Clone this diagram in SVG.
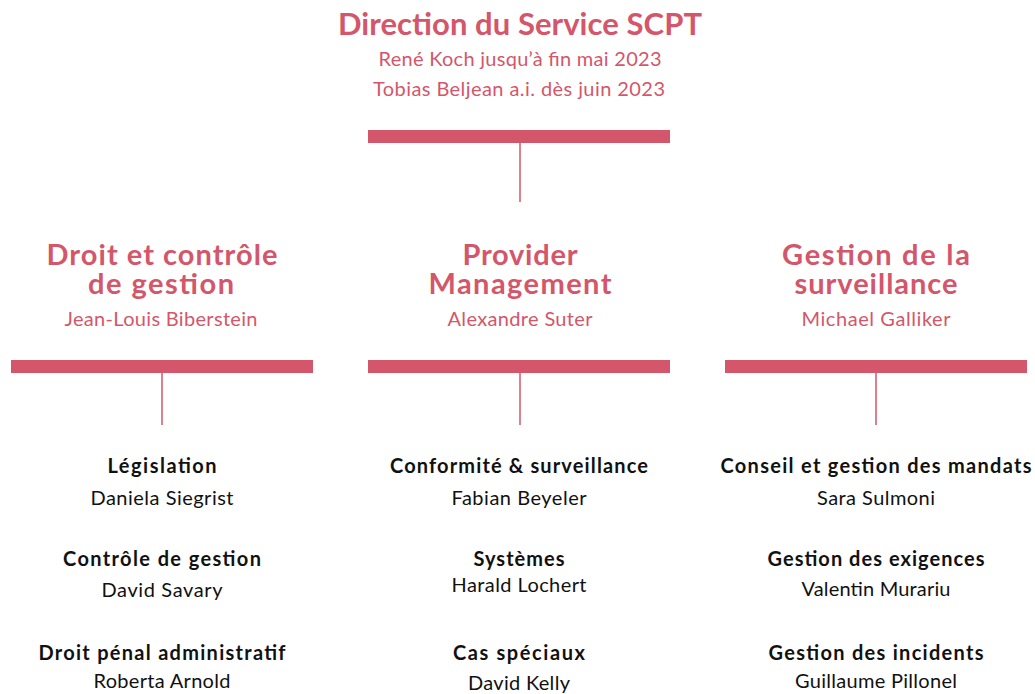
<svg xmlns="http://www.w3.org/2000/svg" width="1035" height="694" viewBox="0 0 1035 694">
  <style>
    text { font-family: Lato, "Open Sans", "Liberation Sans", sans-serif; text-anchor: middle; }
    .title { font-size: 31px; font-weight: 700; fill: #d4566a; }
    .head { font-size: 29px; font-weight: 700; fill: #d4566a; }
    .lead { font-size: 20px; font-weight: 400; fill: #d4566a; }
    .unit { font-size: 20px; font-weight: 700; fill: #111111; }
    .person { font-size: 20px; font-weight: 400; fill: #111111; }
    .bar { fill: #d4566a; }
    .link { stroke: #d4566a; stroke-width: 1.5; fill: none; }
  </style>
  <rect width="1035" height="694" fill="#ffffff"/>

  <!-- connectors from the bars down to the next level -->
  <g id="connectors">
    <line class="link" x1="520" y1="142" x2="520" y2="202"/>
    <line class="link" x1="162" y1="373" x2="162" y2="425"/>
    <line class="link" x1="520" y1="373" x2="520" y2="425"/>
    <line class="link" x1="876" y1="373" x2="876" y2="425"/>
  </g>

  <!-- top level: direction -->
  <g id="direction">
    <text class="title" x="520" y="35" textLength="364">Direction du Service SCPT</text>
    <text class="lead" x="520" y="66" textLength="283">René Koch jusqu’à fin mai 2023</text>
    <text class="lead" x="519" y="96" textLength="292">Tobias Beljean a.i. dès juin 2023</text>
    <rect class="bar" x="368" y="130" width="302" height="13"/>
  </g>

  <!-- division: law and management control -->
  <g id="droit">
    <text class="head" x="162" y="265" textLength="231">Droit et contrôle</text>
    <text class="head" x="161" y="294" textLength="146">de gestion</text>
    <text class="lead" x="161" y="326" textLength="193">Jean-Louis Biberstein</text>
    <rect class="bar" x="11" y="360" width="302" height="13"/>
  </g>

  <!-- division: provider management -->
  <g id="provider">
    <text class="head" x="520" y="265" textLength="115">Provider</text>
    <text class="head" x="520" y="294" textLength="183">Management</text>
    <text class="lead" x="520" y="326" textLength="145">Alexandre Suter</text>
    <rect class="bar" x="368" y="360" width="302" height="13"/>
  </g>

  <!-- division: surveillance management -->
  <g id="surveillance">
    <text class="head" x="876" y="265" textLength="188">Gestion de la</text>
    <text class="head" x="876" y="294" textLength="163">surveillance</text>
    <text class="lead" x="876" y="326" textLength="149">Michael Galliker</text>
    <rect class="bar" x="725" y="360" width="302" height="13"/>
  </g>

  <!-- units under "Droit et contrôle de gestion" -->
  <g id="legislation">
    <text class="unit" x="162" y="473" textLength="109">Législation</text>
    <text class="person" x="162" y="505" textLength="143">Daniela Siegrist</text>
  </g>
  <g id="controle-gestion">
    <text class="unit" x="162" y="566" textLength="198">Contrôle de gestion</text>
    <text class="person" x="162" y="597" textLength="121">David Savary</text>
  </g>
  <g id="droit-penal">
    <text class="unit" x="162" y="660" textLength="247">Droit pénal administratif</text>
    <text class="person" x="162" y="688" textLength="137">Roberta Arnold</text>
  </g>

  <!-- units under "Provider Management" -->
  <g id="conformite">
    <text class="unit" x="519" y="473" textLength="258">Conformité &amp; surveillance</text>
    <text class="person" x="519" y="505" textLength="135">Fabian Beyeler</text>
  </g>
  <g id="systemes">
    <text class="unit" x="519" y="566" textLength="91">Systèmes</text>
    <text class="person" x="519" y="592" textLength="135">Harald Lochert</text>
  </g>
  <g id="cas-speciaux">
    <text class="unit" x="519" y="660" textLength="132">Cas spéciaux</text>
    <text class="person" x="519" y="690" textLength="102">David Kelly</text>
  </g>

  <!-- units under "Gestion de la surveillance" -->
  <g id="conseil-mandats">
    <text class="unit" x="876" y="473" textLength="311">Conseil et gestion des mandats</text>
    <text class="person" x="876" y="505" textLength="118">Sara Sulmoni</text>
  </g>
  <g id="exigences">
    <text class="unit" x="876" y="566" textLength="217">Gestion des exigences</text>
    <text class="person" x="876" y="596" textLength="149">Valentin Murariu</text>
  </g>
  <g id="incidents">
    <text class="unit" x="876" y="660" textLength="215">Gestion des incidents</text>
    <text class="person" x="876" y="688" textLength="162">Guillaume Pillonel</text>
  </g>
</svg>
